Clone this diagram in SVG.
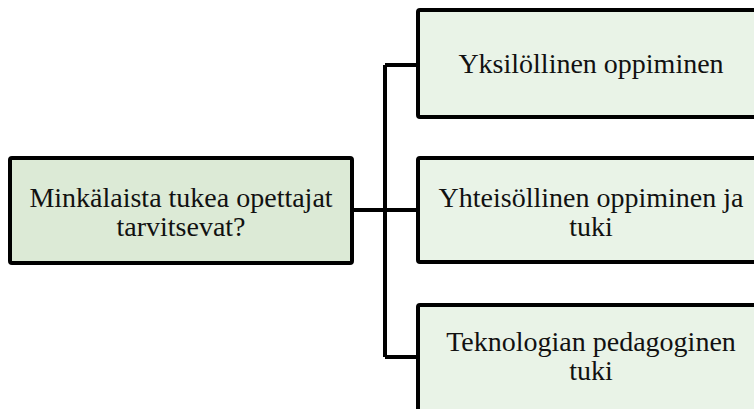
<svg xmlns="http://www.w3.org/2000/svg" width="754" height="409" viewBox="0 0 754 409">
<style>
.box{stroke:#000;stroke-width:4;stroke-linejoin:round}
.main{fill:#dcead6}
.sub{fill:#e9f3e7}
.t{font-family:"Liberation Serif","Times New Roman",serif;font-size:28px;fill:#111;text-anchor:middle}
.c{fill:none;stroke:#000;stroke-width:4;stroke-linejoin:miter}
</style>
<rect width="754" height="409" fill="#fff"/>
<g id="connectors">
<path class="c" d="M352 210 H385 M385 65 V357 M385 65 H418 M385 210 H418 M385 357 H418"/>
</g>
<g id="n0">
<rect class="box main" x="10" y="158" width="342" height="105" rx="2"/>
<text class="t" x="181" y="207">Minkälaista tukea opettajat</text>
<text class="t" x="181" y="236">tarvitsevat?</text>
</g>
<g id="n1">
<rect class="box sub" x="418" y="10" width="346" height="107" rx="2"/>
<text class="t" x="591" y="73">Yksilöllinen oppiminen</text>
</g>
<g id="n2">
<rect class="box sub" x="418" y="158" width="346" height="104" rx="2"/>
<text class="t" x="591" y="207">Yhteisöllinen oppiminen ja</text>
<text class="t" x="591" y="236">tuki</text>
</g>
<g id="n3">
<rect class="box sub" x="418" y="305" width="346" height="110" rx="2"/>
<text class="t" x="591" y="351">Teknologian pedagoginen</text>
<text class="t" x="591" y="380">tuki</text>
</g>
</svg>
